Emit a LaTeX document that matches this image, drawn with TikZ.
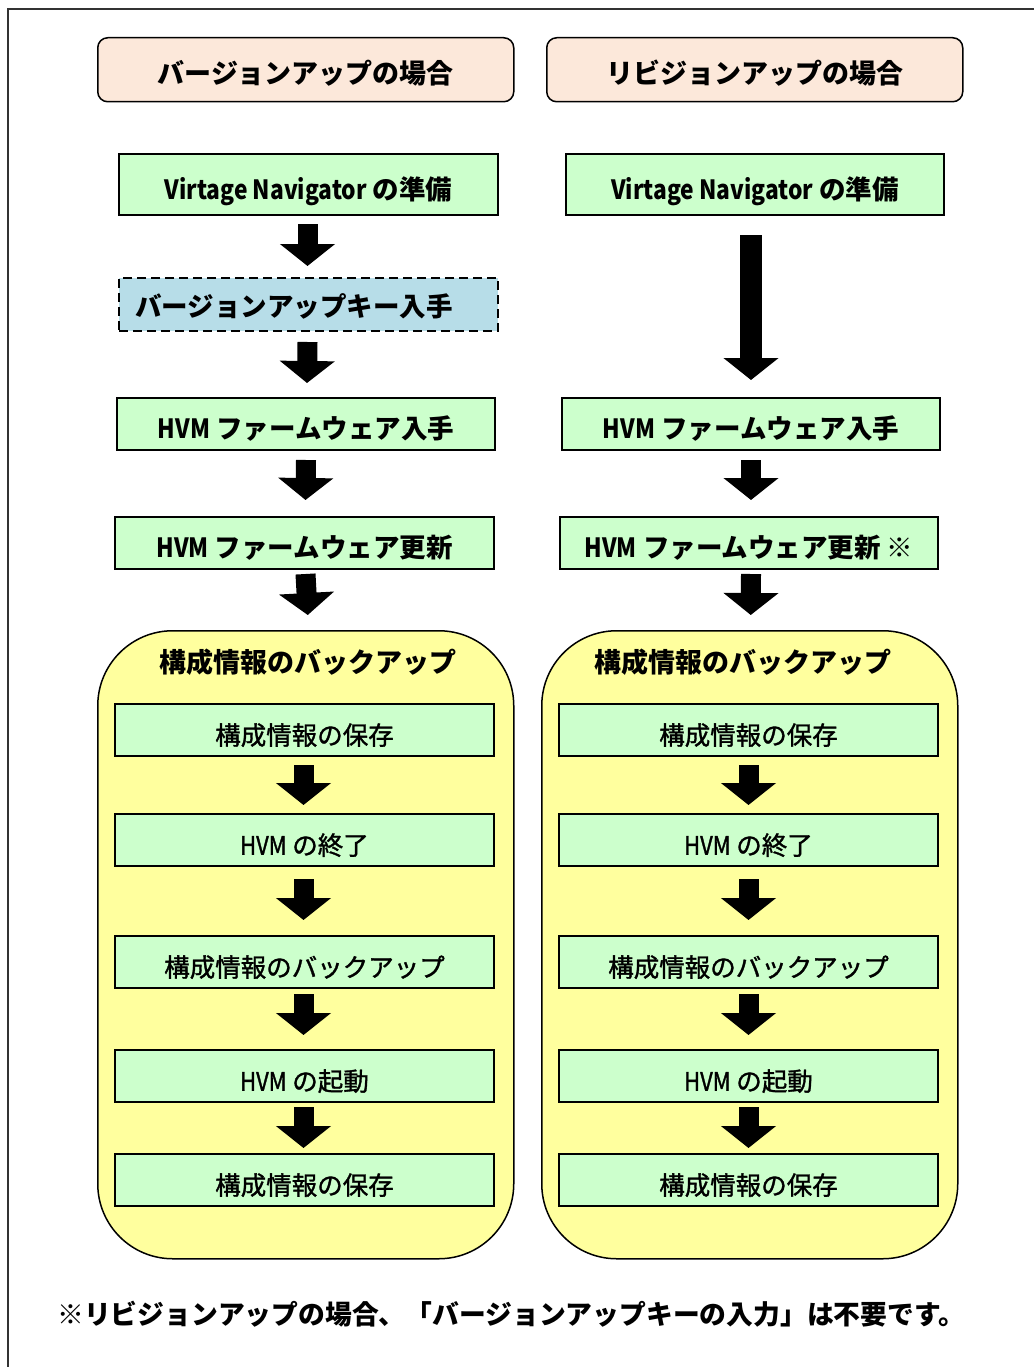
\documentclass[tikz,border=0pt]{standalone}
\usepackage{fontspec}
\setmainfont{Noto Sans CJK JP}
\usetikzlibrary{arrows.meta}
\definecolor{peach}{HTML}{FCE8DA}
\definecolor{lgreen}{HTML}{CCFFCC}
\definecolor{lblue}{HTML}{B7DDE8}
\definecolor{lyellow}{HTML}{FFFF9E}
\definecolor{framegray}{HTML}{333333}
\newcommand\condtxt[1]{{\addfontfeature{FakeStretch=0.86}#1}}
\begin{document}
\begin{tikzpicture}[x=1pt,y=-1pt,
  base/.style={draw, line width=2pt, anchor=north west, inner sep=0pt, align=center, text height=29.5pt, text depth=0pt},
  hdr/.style={base, line width=1.5pt, rounded corners=10pt, fill=peach, minimum width=416pt, minimum height=64pt, text height=27.6pt, font=\bfseries\fontsize{27}{30}\selectfont},
  topbox/.style={base, fill=lgreen, minimum height=52pt, font=\bfseries\fontsize{26.5}{30}\selectfont},
  keybox/.style={base, fill=lblue, dashed, dash pattern=on 9pt off 5pt, minimum height=53pt, minimum width=379pt},
  cont/.style={base, line width=1.5pt, fill=lyellow, rounded corners=75pt, minimum width=416pt, minimum height=628pt},
  ctitle/.style={font=\bfseries\fontsize{27}{30}\selectfont, inner sep=0pt},
  inbox/.style={base, fill=lgreen, minimum width=379pt, minimum height=52pt, font=\fontsize{25.5}{30}\selectfont\addfontfeature{FakeBold=1.3}},
  blockarrow/.style={line width=20pt, -{Triangle[width=54pt,length=22pt]}},
  note/.style={anchor=west, inner sep=0pt, font=\bfseries\fontsize{26.8}{30}\selectfont}
]
\useasboundingbox (0,0) rectangle (1033,1367);
\fill[white] (0,0) rectangle (1033,1367);
\draw[framegray, line width=1.5pt] (8,1370) -- (8,9) -- (1036,9);

% headers
\node[hdr] (hdrL) at (97,37) {バージョンアップの場合};
\node[hdr] (hdrR) at (546,37) {リビジョンアップの場合};

% left column
\node[topbox, minimum width=379pt, minimum height=61pt] (vnL) at (118,153) {\condtxt{Virtage Navigator} の準備};
\node[keybox] (keyL) at (118,277) {};
\node[anchor=west, inner sep=0pt, font=\bfseries\fontsize{26.5}{30}\selectfont] (keyT) at (135,306) {バージョンアップキー入手};
\node[topbox, minimum width=378pt] (fgL) at (116,397) {\condtxt{HVM} ファームウェア入手};
\node[topbox, minimum width=379pt] (fuL) at (114,516) {\condtxt{HVM} ファームウェア更新};

% right column
\node[topbox, minimum width=378pt, minimum height=61pt] (vnR) at (565,153) {\condtxt{Virtage Navigator} の準備};
\node[topbox, minimum width=378pt] (fgR) at (561,397) {\condtxt{HVM} ファームウェア入手};
\node[topbox, minimum width=378pt] (fuR) at (559,516) {\condtxt{HVM} ファームウェア更新 ※};

% containers
\node[cont] (cL) at (97,630) {};
\node[cont] (cR) at (541,630) {};
\node[ctitle] (tL) at (308,662) {構成情報のバックアップ};
\node[ctitle] (tR) at (743,662) {構成情報のバックアップ};

% inner boxes left
\node[inbox] (aL1) at (114,703) {構成情報の保存};
\node[inbox] (aL2) at (114,813) {\condtxt{HVM} の終了};
\node[inbox] (aL3) at (114,935) {構成情報のバックアップ};
\node[inbox] (aL4) at (114,1049) {\condtxt{HVM} の起動};
\node[inbox] (aL5) at (114,1153) {構成情報の保存};
% inner boxes right
\node[inbox] (aR1) at (558,703) {構成情報の保存};
\node[inbox] (aR2) at (558,813) {\condtxt{HVM} の終了};
\node[inbox] (aR3) at (558,935) {構成情報のバックアップ};
\node[inbox] (aR4) at (558,1049) {\condtxt{HVM} の起動};
\node[inbox] (aR5) at (558,1153) {構成情報の保存};

% arrows left
\draw[blockarrow] ([xshift=-1pt,yshift=-8pt]vnL.south) -- ([xshift=-1pt,yshift=11pt]keyL.north);
\draw[blockarrow] ([xshift=-1pt,yshift=-10pt]keyL.south) -- ([xshift=1pt,yshift=14pt]fgL.north);
\draw[blockarrow] ([yshift=-9pt]fgL.south) -- ([xshift=1pt,yshift=16pt]fuL.north);
\draw[blockarrow] ([xshift=1pt,yshift=-4pt]fuL.south) -- ([xshift=2pt,yshift=15pt]cL.north);
\draw[blockarrow] ([xshift=-1pt,yshift=-8pt]aL1.south) -- ([xshift=-1pt,yshift=8pt]aL2.north);
\draw[blockarrow] ([xshift=-1pt,yshift=-12pt]aL2.south) -- ([xshift=-1pt,yshift=15pt]aL3.north);
\draw[blockarrow] ([xshift=-1pt,yshift=-5pt]aL3.south) -- ([xshift=-1pt,yshift=14pt]aL4.north);
\draw[blockarrow] ([xshift=-1pt,yshift=-4pt]aL4.south) -- ([xshift=-1pt,yshift=5pt]aL5.north);

% arrows right
\draw[blockarrow, line width=22pt] ([xshift=-4pt,yshift=-19pt]vnR.south) -- ([xshift=0pt,yshift=17pt]fgR.north);
\draw[blockarrow] ([yshift=-9pt]fgR.south) -- ([xshift=2pt,yshift=16pt]fuR.north);
\draw[blockarrow] ([xshift=2pt,yshift=-4pt]fuR.south) -- ([xshift=1pt,yshift=15pt]cR.north);
\draw[blockarrow] ([yshift=-8pt]aR1.south) -- ([yshift=8pt]aR2.north);
\draw[blockarrow] ([yshift=-12pt]aR2.south) -- ([yshift=15pt]aR3.north);
\draw[blockarrow] ([yshift=-5pt]aR3.south) -- ([yshift=14pt]aR4.north);
\draw[blockarrow] ([yshift=-4pt]aR4.south) -- ([yshift=5pt]aR5.north);

% footnote
\node[note] (fn) at (57,1314) {※リビジョンアップの場合、「バージョンアップキーの入力」は不要です。};
\end{tikzpicture}
\end{document}
